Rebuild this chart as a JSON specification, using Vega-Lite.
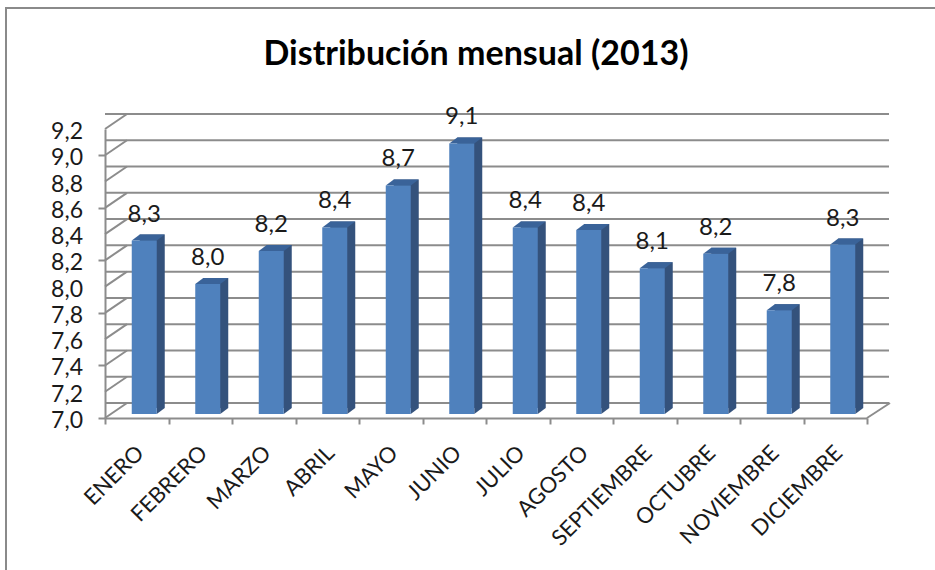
{
  "$schema": "https://vega.github.io/schema/vega-lite/v6.json",
  "width": 762,
  "height": 289,
  "autosize": {"type": "none"},
  "padding": {"left": 105, "top": 129, "right": 68, "bottom": 152},
  "background": "white",
  "config": {
    "view": {"stroke": null},
    "font": "Lato",
    "locale": {"number": {"decimal": ",", "thousands": ".", "grouping": [3], "currency": ["", " €"]}}
  },
  "title": {"text": "Distribución mensual (2013)", "font": "Lato", "fontWeight": "bold", "fontSize": 34, "color": "#000000", "anchor": "middle", "frame": "group", "dx": -10, "offset": -68},
  "datasets": {
    "meses": [
      {"mes": "ENERO", "valor": 8.32},
      {"mes": "FEBRERO", "valor": 7.99},
      {"mes": "MARZO", "valor": 8.24},
      {"mes": "ABRIL", "valor": 8.42},
      {"mes": "MAYO", "valor": 8.74},
      {"mes": "JUNIO", "valor": 9.06},
      {"mes": "JULIO", "valor": 8.42},
      {"mes": "AGOSTO", "valor": 8.4},
      {"mes": "SEPTIEMBRE", "valor": 8.11},
      {"mes": "OCTUBRE", "valor": 8.22},
      {"mes": "NOVIEMBRE", "valor": 7.79},
      {"mes": "DICIEMBRE", "valor": 8.29}
    ],
    "marcas": [
      {"v": 7.0}, {"v": 7.2}, {"v": 7.4}, {"v": 7.6}, {"v": 7.8}, {"v": 8.0},
      {"v": 8.2}, {"v": 8.4}, {"v": 8.6}, {"v": 8.8}, {"v": 9.0}, {"v": 9.2}
    ]
  },
  "resolve": {"scale": {"y": "shared"}},
  "layer": [
    {
      "data": {"name": "marcas"},
      "mark": {"type": "rule", "color": "#8c8c8c", "strokeWidth": 2, "xOffset": 22, "x2Offset": 22, "yOffset": -15},
      "encoding": {
        "y": {
          "field": "v", "type": "quantitative",
          "scale": {"domain": [7, 9.2]},
          "axis": {"title": null, "values": [7, 7.2, 7.4, 7.6, 7.8, 8, 8.2, 8.4, 8.6, 8.8, 9, 9.2], "labels": false, "grid": false, "domainColor": "#8c8c8c", "domainWidth": 2, "tickColor": "#8c8c8c", "tickWidth": 2, "tickSize": 7}
        }
      }
    },
    {
      "data": {"name": "marcas"},
      "mark": {"type": "text", "font": "Lato", "fontSize": 23, "color": "#1a1a1a", "align": "right", "baseline": "middle", "xOffset": -403, "yOffset": 3},
      "encoding": {
        "y": {"field": "v", "type": "quantitative", "scale": {"domain": [7, 9.2]}},
        "text": {"field": "v", "type": "quantitative", "format": ".1f"}
      }
    },
    {
      "data": {"values": [{"v": 7.0}]},
      "mark": {"type": "point", "shape": "M-480,152 L-480,-410 L449,-410", "size": 4, "filled": false, "stroke": "#8a8a8a", "strokeWidth": 2, "opacity": 1, "clip": false},
      "encoding": {"y": {"field": "v", "type": "quantitative", "scale": {"domain": [7, 9.2]}}}
    },
    {
      "data": {"name": "marcas"},
      "mark": {"type": "point", "shape": "M-381,0 L-359,-15", "size": 4, "filled": false, "stroke": "#8c8c8c", "strokeWidth": 2, "opacity": 1},
      "encoding": {"y": {"field": "v", "type": "quantitative", "scale": {"domain": [7, 9.2]}}}
    },
    {
      "data": {"values": [{"v": 7.0}]},
      "mark": {"type": "point", "shape": "M381,0 L404,-15", "size": 4, "filled": false, "stroke": "#8c8c8c", "strokeWidth": 2, "opacity": 1},
      "encoding": {"y": {"field": "v", "type": "quantitative", "scale": {"domain": [7, 9.2]}}}
    },
    {
      "data": {"name": "meses"},
      "encoding": {
        "x": {
          "field": "mes", "type": "nominal", "sort": null,
          "scale": {"paddingInner": 0, "paddingOuter": 0},
          "axis": {"title": null, "labelAngle": -45, "labelAlign": "right", "labelBaseline": "middle", "labelFont": "Lato", "labelFontSize": 22, "labelColor": "#1a1a1a", "labelPadding": 25, "labelOffset": 3, "domainColor": "#8c8c8c", "domainWidth": 2, "tickColor": "#8c8c8c", "tickWidth": 2, "tickSize": 6, "tickBand": "extent", "labelOverlap": false, "labelLimit": 300}
        }
      },
      "layer": [
        {
          "mark": {"type": "bar", "width": 25, "color": "#34527c", "xOffset": 15.5, "yOffset": -10, "y2Offset": -10},
          "encoding": {
            "y": {"field": "valor", "type": "quantitative", "scale": {"domain": [7, 9.2]}},
            "y2": {"datum": 7}
          }
        },
        {
          "mark": {"type": "point", "shape": "M12.5,-4 L20.5,-10 L12.5,-10 Z", "size": 4, "filled": true, "color": "#34527c", "opacity": 1, "xOffset": 7.5},
          "encoding": {"y": {"datum": 7, "type": "quantitative", "scale": {"domain": [7, 9.2]}}}
        },
        {
          "mark": {"type": "point", "shape": "M-12.5,-4 L12.5,-4 L20.5,-10 L-4.5,-10 Z", "size": 4, "filled": true, "color": "#3a6399", "opacity": 1, "xOffset": 7.5},
          "encoding": {"y": {"field": "valor", "type": "quantitative", "scale": {"domain": [7, 9.2]}}}
        },
        {
          "mark": {"type": "bar", "width": 25, "color": "#4f81bd", "xOffset": 7.5, "yOffset": -4, "y2Offset": -4},
          "encoding": {
            "y": {"field": "valor", "type": "quantitative", "scale": {"domain": [7, 9.2]}},
            "y2": {"datum": 7}
          }
        },
        {
          "mark": {"type": "text", "font": "Lato", "fontSize": 24, "color": "#1a1a1a", "baseline": "alphabetic", "align": "center", "xOffset": 7.5, "yOffset": -23},
          "encoding": {
            "y": {"field": "valor", "type": "quantitative", "scale": {"domain": [7, 9.2]}},
            "text": {"field": "valor", "type": "quantitative", "format": ".1f"}
          }
        }
      ]
    }
  ]
}
